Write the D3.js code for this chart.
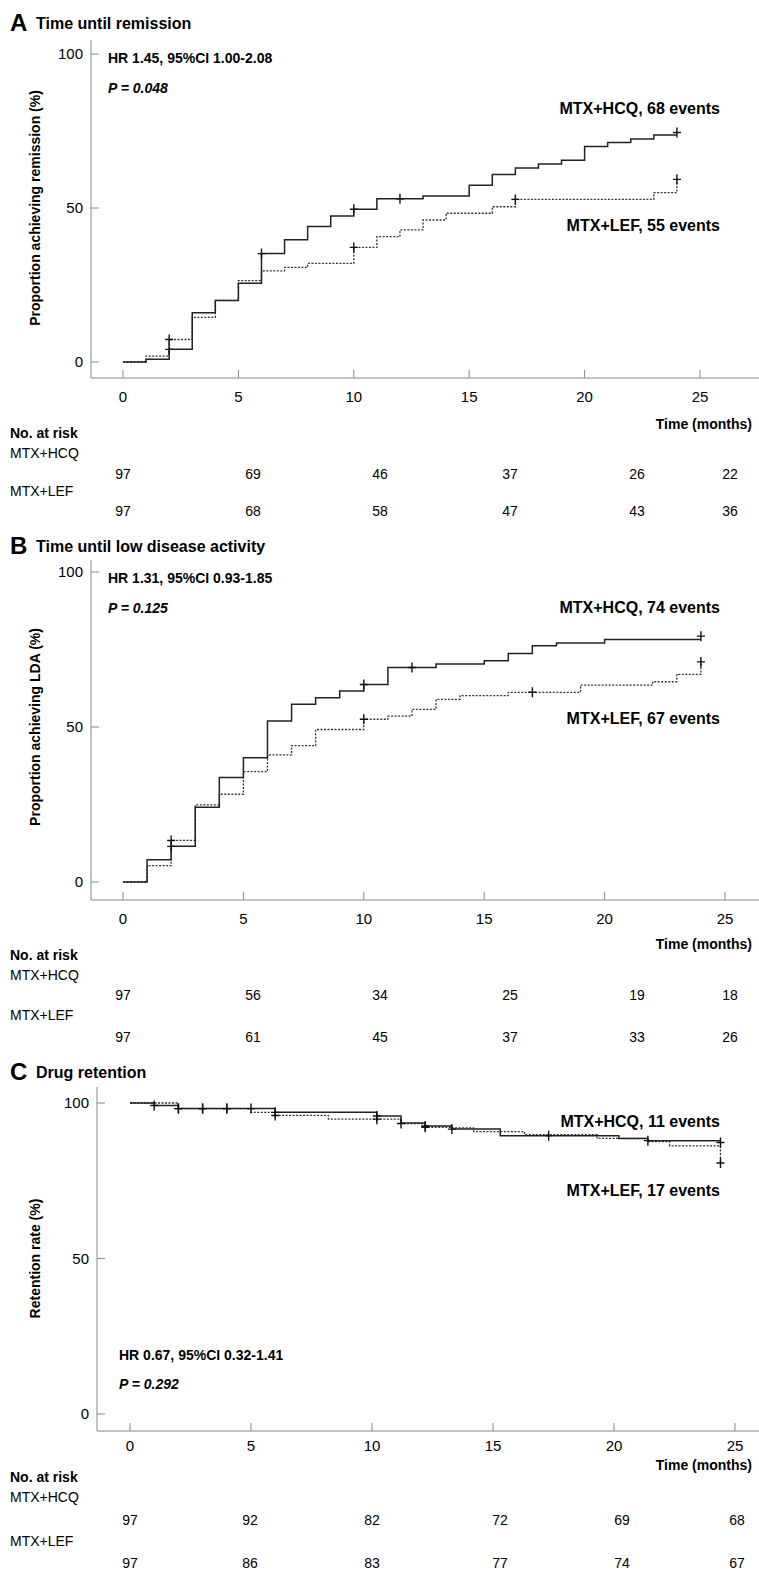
<!DOCTYPE html>
<html>
<head>
<style>
* { margin: 0; padding: 0; }
body { background: #fff; }
svg { display: block; font-family: Arial, "Liberation Sans", sans-serif; }
</style>
</head>
<body>
<svg id="chart" width="759" height="1577"></svg>
<script src="https://cdn.jsdelivr.net/npm/d3@7/dist/d3.min.js"></script>
<script>
// step data: [time, percent] — value holds from this time until the next
var remHCQ = [[0,0],[1,0.9],[2,4.1],[3,16],[4,20],[5,25.6],[6,35.2],[7,39.7],[8,44],[9,47.4],[10,49.6],[11,53],[13,53.9],[15,57.4],[16,60.9],[17,63],[18,64.3],[19,65.5],[20,70],[21,71.3],[22,72.4],[23,73.7],[24,73.7]];
var remLEF = [[0,0],[1,1.9],[2,7.3],[3,14.5],[4,20],[5,26.4],[6,29.6],[7,30.7],[8,32],[10,37.2],[11,40.7],[12,42.9],[13,46.1],[14,48.3],[16,50.4],[17,52.8],[23,55],[24,59.3]];
var remHCQCens = [[2,4.1],[6,35.2],[10,49.6],[12,53],[24,74.5]];
var remLEFCens = [[2,7.3],[10,37.2],[17,52.8],[24,59.3]];

var ldaHCQ = [[0,0],[1,7.2],[2,11.5],[3,24.1],[4,33.7],[5,40.1],[6,51.9],[7,57.3],[8,59.4],[9,61.6],[10,63.7],[11,69.2],[13,70.3],[15,71.4],[16,73.7],[17,76.2],[18,77.1],[20,78.2],[24,78.2]];
var ldaLEF = [[0,0],[1,5.3],[2,13.4],[3,24.9],[4,28.3],[5,35.6],[6,41],[7,44],[8,49.2],[10,52.5],[11,53.5],[12,55.7],[13,58.9],[14,60.1],[16,61.2],[19,63.5],[22,64.6],[23,67],[24,71]];
var ldaHCQCens = [[2,11.5],[10,63.7],[12,69.2],[24,79.3]];
var ldaLEFCens = [[2,13.4],[10,52.5],[17,61.2],[24,71]];

var retHCQ = [[0,100],[1,99.2],[2,98.2],[6,97],[10.2,95.8],[11.2,93.6],[12.2,92.6],[13.3,91.6],[15.3,89.5],[20.2,88.6],[21.4,87.9],[24.4,87.9]];
var retLEF = [[0,100],[2,98.2],[5,97],[6,96],[8.2,94.8],[11.2,93.4],[12.2,92.2],[13.3,92],[14.2,90.8],[16.3,89.8],[19.3,88.6],[21.4,87.6],[22.3,86.2],[24.4,80.7]];
var retHCQCens = [[1,99.2],[2,98.2],[3,98.2],[4,98.2],[5,98.2],[6,97],[10.2,95.8],[12.2,92.6],[13.3,91.6],[17.3,89.5],[21.4,87.9],[24.4,87.3]];
var retLEFCens = [[2,98.2],[3,98.2],[4,98.2],[6,96],[10.2,94.8],[11.2,93.4],[12.2,92.2],[24.4,80.7]];

var xTicks = [0, 5, 10, 15, 20, 25];
var yTicks = [0, 50, 100];
var riskHCQ = [[97,69,46,37,26,22],[97,56,34,25,19,18],[97,92,82,72,69,68]];
var riskLEF = [[97,68,58,47,43,36],[97,61,45,37,33,26],[97,86,83,77,74,67]];

var panels = [
	{ letter: 'A', title: 'Time until remission', ylabel: 'Proportion achieving remission (%)',
	  top: 22, axisX: 91, axisTop: 40, axisY: 378, x0: 123, x25: 700, y0: 362, y100: 54,
	  hcq: remHCQ, lef: remLEF, hcqC: remHCQCens, lefC: remLEFCens,
	  hr: 'HR 1.45, 95%CI 1.00-2.08', p: '0.048', statX: 108, statY: 63, statGap: 30,
	  hcqLab: 'MTX+HCQ, 68 events', hcqLabY: 114, lefLab: 'MTX+LEF, 55 events', lefLabY: 231,
	  xtickY: 24, xtitleY: 429, riskY: 438, riskOff: [0, 20, 41, 58, 78], riskX: [123, 253, 380, 510, 637, 730], idx: 0 },
	{ letter: 'B', title: 'Time until low disease activity', ylabel: 'Proportion achieving LDA (%)',
	  top: 545, axisX: 91, axisTop: 560, axisY: 900, x0: 123, x25: 725, y0: 882, y100: 572,
	  hcq: ldaHCQ, lef: ldaLEF, hcqC: ldaHCQCens, lefC: ldaLEFCens,
	  hr: 'HR 1.31, 95%CI 0.93-1.85', p: '0.125', statX: 108, statY: 583, statGap: 30,
	  hcqLab: 'MTX+HCQ, 74 events', hcqLabY: 613, lefLab: 'MTX+LEF, 67 events', lefLabY: 724,
	  xtickY: 24, xtitleY: 949, riskY: 960, riskOff: [0, 20, 40, 60, 82], riskX: [123, 253, 380, 510, 637, 730], idx: 1 },
	{ letter: 'C', title: 'Drug retention', ylabel: 'Retention rate (%)',
	  top: 1071, axisX: 97, axisTop: 1087, axisY: 1431, x0: 130, x25: 735, y0: 1414, y100: 1103,
	  hcq: retHCQ, lef: retLEF, hcqC: retHCQCens, lefC: retLEFCens,
	  hr: 'HR 0.67, 95%CI 0.32-1.41', p: '0.292', statX: 119, statY: 1360, statGap: 29,
	  hcqLab: 'MTX+HCQ, 11 events', hcqLabY: 1127, lefLab: 'MTX+LEF, 17 events', lefLabY: 1196,
	  xtickY: 20, xtitleY: 1470, riskY: 1482, riskOff: [0, 20, 43, 64, 86], riskX: [130, 250, 372, 500, 622, 737], idx: 2 }
];

var svg = d3.select('#chart');

panels.forEach(function (c) {
	var g = svg.append('g');
	var x = d3.scaleLinear().domain([0, 25]).range([c.x0, c.x25]);
	var y = d3.scaleLinear().domain([0, 100]).range([c.y0, c.y100]);

	g.append('text').attr('x', 10).attr('y', c.top + 9).attr('font-size', 24).attr('font-weight', 700).text(c.letter);
	g.append('text').attr('x', 36).attr('y', c.top + 7).attr('font-size', 16).attr('font-weight', 700).text(c.title);

	// axes
	g.append('line').attr('x1', c.axisX).attr('x2', c.axisX).attr('y1', c.axisTop).attr('y2', c.axisY).attr('stroke', '#888');
	g.append('line').attr('x1', c.axisX).attr('x2', 759).attr('y1', c.axisY).attr('y2', c.axisY).attr('stroke', '#888');
	xTicks.forEach(function (t) {
		g.append('line').attr('x1', x(t)).attr('x2', x(t)).attr('y1', c.axisY - 8).attr('y2', c.axisY).attr('stroke', '#888');
		g.append('text').attr('x', x(t)).attr('y', c.axisY + c.xtickY).attr('text-anchor', 'middle').attr('font-size', 15).text(t);
	});
	yTicks.forEach(function (t) {
		g.append('line').attr('x1', c.axisX).attr('x2', c.axisX + 8).attr('y1', y(t)).attr('y2', y(t)).attr('stroke', '#888');
		g.append('text').attr('x', c.axisX - 8).attr('y', y(t) + 5).attr('text-anchor', 'end').attr('font-size', 15).text(t);
	});
	g.append('text').attr('transform', 'translate(40,' + ((c.y0 + c.y100) / 2) + ') rotate(-90)')
		.attr('text-anchor', 'middle').attr('font-size', 14).attr('font-weight', 700).text(c.ylabel);

	// curves
	var line = d3.line().curve(d3.curveStepAfter).x(function (d) { return x(d[0]); }).y(function (d) { return y(d[1]); });
	g.append('path').attr('d', line(c.lef)).attr('fill', 'none').attr('stroke', '#333').attr('stroke-width', 1.3).attr('stroke-dasharray', '2,1.5');
	g.append('path').attr('d', line(c.hcq)).attr('fill', 'none').attr('stroke', '#222').attr('stroke-width', 1.5);
	c.hcqC.concat(c.lefC).forEach(function (d) {
		var cx = x(d[0]), cy = y(d[1]);
		g.append('path').attr('d', 'M' + (cx - 4) + ',' + cy + 'H' + (cx + 4) + 'M' + cx + ',' + (cy - 5) + 'V' + (cy + 5))
			.attr('stroke', '#111').attr('stroke-width', 1.4);
	});

	// stats text
	g.append('text').attr('x', c.statX).attr('y', c.statY).attr('font-size', 14).attr('font-weight', 700).text(c.hr);
	var p = g.append('text').attr('x', c.statX).attr('y', c.statY + c.statGap).attr('font-size', 14).attr('font-weight', 700).attr('font-style', 'italic');
	p.append('tspan').text('P');
	p.append('tspan').text(' = ' + c.p);

	g.append('text').attr('x', 720).attr('y', c.hcqLabY).attr('text-anchor', 'end').attr('font-size', 16).attr('font-weight', 700).text(c.hcqLab);
	g.append('text').attr('x', 720).attr('y', c.lefLabY).attr('text-anchor', 'end').attr('font-size', 16).attr('font-weight', 700).text(c.lefLab);

	g.append('text').attr('x', 752).attr('y', c.xtitleY).attr('text-anchor', 'end').attr('font-size', 14).attr('font-weight', 700).text('Time (months)');

	// numbers at risk
	var o = c.riskOff;
	g.append('text').attr('x', 10).attr('y', c.riskY + o[0]).attr('font-size', 14).attr('font-weight', 700).text('No. at risk');
	g.append('text').attr('x', 10).attr('y', c.riskY + o[1]).attr('font-size', 14).text('MTX+HCQ');
	g.append('text').attr('x', 10).attr('y', c.riskY + o[3]).attr('font-size', 14).text('MTX+LEF');
	g.selectAll('.rh').data(riskHCQ[c.idx]).enter().append('text')
		.attr('x', function (d, i) { return c.riskX[i]; }).attr('y', c.riskY + o[2])
		.attr('text-anchor', 'middle').attr('font-size', 14).text(function (d) { return d; });
	g.selectAll('.rl').data(riskLEF[c.idx]).enter().append('text')
		.attr('x', function (d, i) { return c.riskX[i]; }).attr('y', c.riskY + o[4])
		.attr('text-anchor', 'middle').attr('font-size', 14).text(function (d) { return d; });
});
</script>
</body>
</html>
